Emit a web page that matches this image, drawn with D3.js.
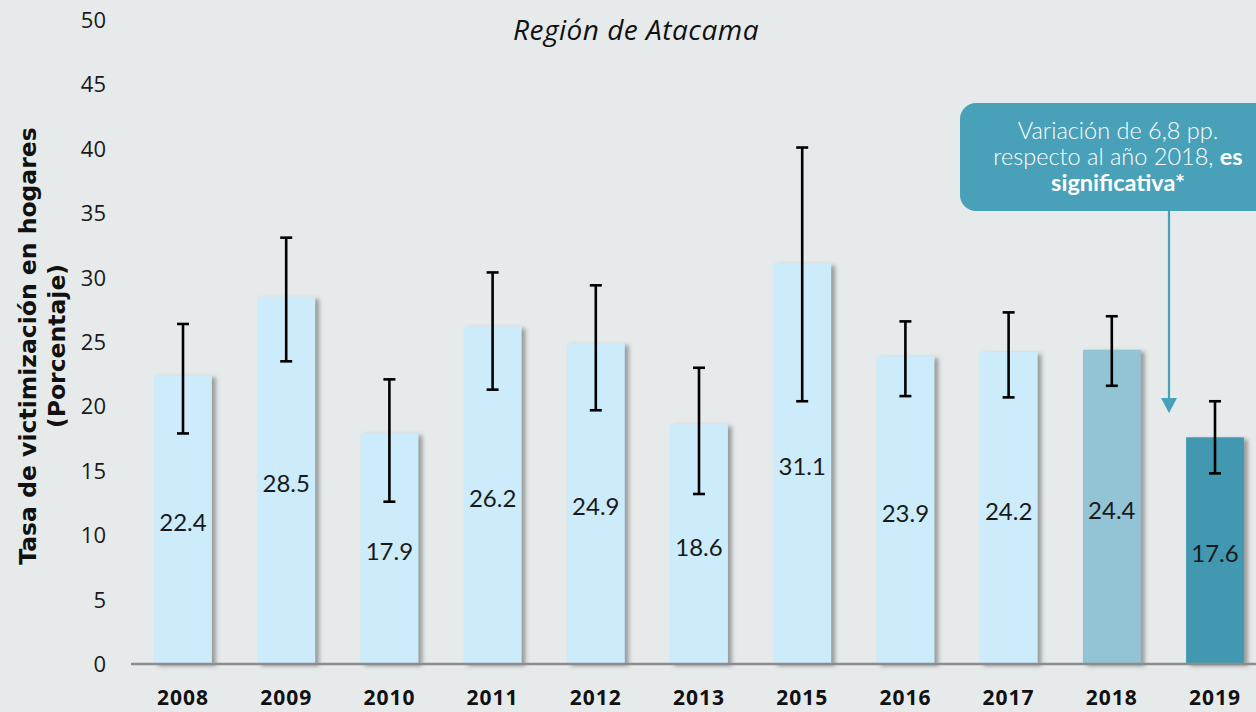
<!DOCTYPE html>
<html>
<head>
<meta charset="utf-8">
<script src="https://cdn.jsdelivr.net/npm/d3@7"></script>
<style>
html,body{margin:0;padding:0;background:#E6EAEB;}
svg{display:block;}
</style>
</head>
<body>
<svg id="chart" width="1256" height="712"></svg>
<script>
const years = ["2008","2009","2010","2011","2012","2013","2015","2016","2017","2018","2019"];
const values = [22.4,28.5,17.9,26.2,24.9,18.6,31.1,23.9,24.2,24.4,17.6];
const lower = [17.9,23.5,12.6,21.3,19.7,13.2,20.4,20.8,20.7,21.6,14.8];
const upper = [26.4,33.1,22.1,30.4,29.4,23.0,40.1,26.6,27.3,27.0,20.4];
const yTicks = [0,5,10,15,20,25,30,35,40,45,50];
const title = "Región de Atacama";
const yTitle1 = "Tasa de victimización en hogares";
const yTitle2 = "(Porcentaje)";
const noteLines = ["Variación de 6,8 pp.", "respecto al año 2018, ", "significativa*"];

const svg = d3.select("#chart");
const W = 1256, H = 712;
svg.append("rect").attr("width",W).attr("height",H).attr("fill","#E6EAEB");

const defs = svg.append("defs");
const f = defs.append("filter").attr("id","shadow").attr("x","-20%").attr("y","-5%").attr("width","150%").attr("height","120%");
f.append("feDropShadow").attr("dx",4).attr("dy",2).attr("stdDeviation",2).attr("flood-color","#5a5a5a").attr("flood-opacity",0.55);

const x = d3.scaleBand().domain(years).range([131.4, 1266.6]).paddingInner(0.44).paddingOuter(0.22);
const y = d3.scaleLinear().domain([0,50]).range([664,20]);

function barColor(i){
  if (years[i]==="2018") return "#93C4D6";
  if (years[i]==="2019") return "#4298B0";
  return "#CCEBFB";
}

// y tick labels
svg.append("g").selectAll("text").data(yTicks).join("text")
  .attr("x",106).attr("y",d=>y(d)).attr("dy","0.36em")
  .attr("text-anchor","end")
  .attr("font-family","'Open Sans', sans-serif")
  .attr("font-size",22).attr("fill","#1a1a1a")
  .text(d=>d);

// bars
svg.append("g").selectAll("rect").data(values).join("rect")
  .attr("x",(d,i)=>x(years[i]))
  .attr("width",x.bandwidth())
  .attr("y",d=>y(d))
  .attr("height",d=>y(0)-y(d))
  .attr("fill",(d,i)=>barColor(i))
  .attr("filter","url(#shadow)");

// baseline
svg.append("line").attr("x1",131).attr("x2",W).attr("y1",y(0)).attr("y2",y(0))
  .attr("stroke","#8c8c8c").attr("stroke-width",2.5);

// error bars
const eb = svg.append("g").attr("stroke","#000").attr("stroke-width",2.6);
years.forEach((yr,i)=>{
  const cx = x(yr)+x.bandwidth()/2;
  eb.append("line").attr("x1",cx).attr("x2",cx).attr("y1",y(upper[i])).attr("y2",y(lower[i]));
  eb.append("line").attr("x1",cx-6).attr("x2",cx+6).attr("y1",y(upper[i])).attr("y2",y(upper[i]));
  eb.append("line").attr("x1",cx-6).attr("x2",cx+6).attr("y1",y(lower[i])).attr("y2",y(lower[i]));
});

// value labels
svg.append("g").selectAll("text").data(values).join("text")
  .attr("x",(d,i)=>x(years[i])+x.bandwidth()/2)
  .attr("y",d=>(y(d)+y(0))/2+3)
  .attr("dy","0.36em")
  .attr("text-anchor","middle")
  .attr("font-family","Lato, 'Noto Sans', sans-serif")
  .attr("font-size",24).attr("fill","#1a1a1a")
  .text(d=>d.toFixed(1));

// x labels
svg.append("g").selectAll("text").data(years).join("text")
  .attr("x",d=>x(d)+x.bandwidth()/2)
  .attr("y",705)
  .attr("text-anchor","middle")
  .attr("font-family","'Open Sans', sans-serif")
  .attr("font-weight","bold")
  .attr("font-size",21).attr("letter-spacing",1).attr("fill","#111")
  .text(d=>d);

// title
svg.append("text").attr("x",636).attr("y",40).attr("text-anchor","middle")
  .attr("font-family","'Open Sans', sans-serif").attr("font-style","italic")
  .attr("font-size",28).attr("letter-spacing",0.5).attr("fill","#111").text(title);

// y title
const yt = svg.append("g").attr("transform","translate(0,346) rotate(-90)")
  .attr("font-family","'DejaVu Sans', sans-serif").attr("font-weight","bold")
  .attr("font-size",23.5).attr("fill","#111").attr("text-anchor","middle");
yt.append("text").attr("x",0).attr("y",36).text(yTitle1);
yt.append("text").attr("x",0).attr("y",65).text(yTitle2);

// callout
const boxColor = "#48A1B8";
svg.append("rect").attr("x",960).attr("y",103).attr("width",320).attr("height",108)
  .attr("rx",16).attr("fill",boxColor);
const note = svg.append("text").attr("text-anchor","middle")
  .attr("font-family","Lato, 'Noto Sans', sans-serif").attr("font-size",23.5).attr("fill","#fff");
note.append("tspan").attr("x",1118).attr("y",139).attr("font-weight",300).text(noteLines[0]);
const l2 = note.append("tspan").attr("x",1118).attr("y",165);
l2.append("tspan").attr("font-weight",300).text(noteLines[1]);
l2.append("tspan").attr("font-weight","bold").text("es");
note.append("tspan").attr("x",1118).attr("y",191).attr("font-weight","bold").text(noteLines[2]);

// arrow
const ax = 1169;
svg.append("line").attr("x1",ax).attr("x2",ax).attr("y1",211).attr("y2",400)
  .attr("stroke",boxColor).attr("stroke-width",2.2);
svg.append("path").attr("d",`M${ax-8},398 L${ax+8},398 L${ax},413 Z`).attr("fill",boxColor);
</script>
</body>
</html>
